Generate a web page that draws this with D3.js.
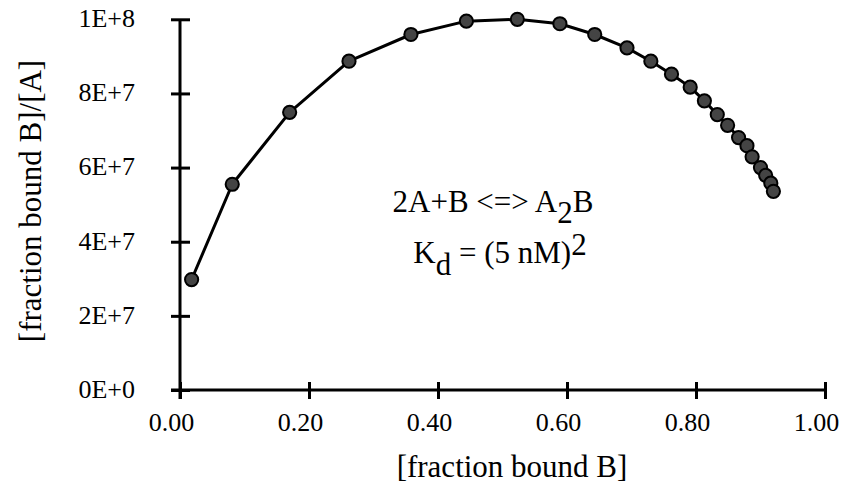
<!DOCTYPE html>
<html>
<head>
<meta charset="utf-8">
<script src="https://cdn.jsdelivr.net/npm/d3@7"></script>
<style>
  html, body { margin: 0; padding: 0; background: #fff; }
  svg text { font-family: "Liberation Serif", "Times New Roman", serif; fill: #000; }
</style>
</head>
<body>
<svg id="chart" width="842" height="486"></svg>
<script>
// fraction bound B
const fractionBound = [0.018, 0.081, 0.170, 0.262, 0.358, 0.444, 0.523, 0.589, 0.643, 0.693,
  0.730, 0.762, 0.791, 0.813, 0.833, 0.849, 0.866, 0.879, 0.887, 0.900, 0.908, 0.916, 0.920];
// [fraction bound B]/[A]
const ratioValues = [2.98e7, 5.55e7, 7.49e7, 8.87e7, 9.59e7, 9.95e7, 1.0e8, 9.88e7, 9.59e7, 9.23e7,
  8.87e7, 8.52e7, 8.17e7, 7.80e7, 7.43e7, 7.14e7, 6.81e7, 6.59e7, 6.29e7, 6.00e7, 5.79e7, 5.58e7, 5.36e7];

const xTicks = [0, 0.2, 0.4, 0.6, 0.8, 1.0];
const xTickLabels = ["0.00", "0.20", "0.40", "0.60", "0.80", "1.00"];
const yTicks = [0, 2e7, 4e7, 6e7, 8e7, 1e8];
const yTickLabels = ["0E+0", "2E+7", "4E+7", "6E+7", "8E+7", "1E+8"];

const xTitle = "[fraction bound B]";
const yTitle = "[fraction bound B]/[A]";

const svg = d3.select("#chart");
const x = d3.scaleLinear().domain([0, 1]).range([180, 825]);
const y = d3.scaleLinear().domain([0, 1e8]).range([390, 19.3]);
const FONT = '"Liberation Serif", "Times New Roman", serif';

// X axis
const xAxis = d3.axisBottom(x).tickValues(xTicks)
  .tickFormat((d, i) => xTickLabels[i]).tickSizeInner(9).tickSizeOuter(0).tickPadding(0);
const gx = svg.append("g").attr("transform", `translate(0,${y(0)})`).call(xAxis);
gx.select(".domain").attr("stroke", "#000").attr("stroke-width", 3)
  .attr("d", `M${x(0) - 9},0H${x(1)}`);
gx.selectAll(".tick line").attr("y1", -8).attr("y2", 9).attr("stroke", "#000").attr("stroke-width", 3);
gx.selectAll(".tick text").attr("font-size", 26).attr("dy", 0).attr("y", 41).attr("dx", -9)
  .style("font-family", FONT);

// Y axis
const yAxis = d3.axisLeft(y).tickValues(yTicks)
  .tickFormat((d, i) => yTickLabels[i]).tickSizeInner(9).tickSizeOuter(0).tickPadding(0);
const gy = svg.append("g").attr("transform", `translate(${x(0)},0)`).call(yAxis);
gy.select(".domain").attr("stroke", "#000").attr("stroke-width", 3)
  .attr("d", `M0,${y(1e8)}V${y(0) + 9}`);
gy.selectAll(".tick line").attr("x1", 10).attr("x2", -9).attr("stroke", "#000").attr("stroke-width", 3);
gy.selectAll(".tick text").attr("font-size", 26).attr("x", -45).attr("dy", "0.28em")
  .style("font-family", FONT);

// Line
const pts = fractionBound.map((f, i) => [f, ratioValues[i]]);
svg.append("path").datum(pts)
  .attr("fill", "none").attr("stroke", "#000").attr("stroke-width", 3).attr("stroke-linejoin", "round")
  .attr("d", d3.line().x(d => x(d[0])).y(d => y(d[1])));

// Points
svg.append("g").selectAll("circle").data(pts).join("circle")
  .attr("cx", d => x(d[0])).attr("cy", d => y(d[1])).attr("r", 6.6)
  .attr("fill", "#444").attr("stroke", "#000").attr("stroke-width", 2);

// Titles
svg.append("text").attr("x", 512).attr("y", 477).attr("text-anchor", "middle")
  .attr("font-size", 31).text(xTitle);
svg.append("text").attr("transform", "translate(41,201) rotate(-90)").attr("text-anchor", "middle")
  .attr("font-size", 31).text(yTitle);

// Annotation
const t1 = svg.append("text").attr("x", 493).attr("y", 212).attr("text-anchor", "middle").attr("font-size", 31);
t1.append("tspan").text("2A+B <=> A");
t1.append("tspan").attr("dy", 11).text("2");
t1.append("tspan").attr("dy", -11).text("B");

const t2 = svg.append("text").attr("x", 500).attr("y", 263).attr("text-anchor", "middle").attr("font-size", 31);
t2.append("tspan").text("K");
t2.append("tspan").attr("dy", 12).text("d");
t2.append("tspan").attr("dy", -12).text(" = (5 nM)");
t2.append("tspan").attr("dy", -8).text("2");
</script>
</body>
</html>
